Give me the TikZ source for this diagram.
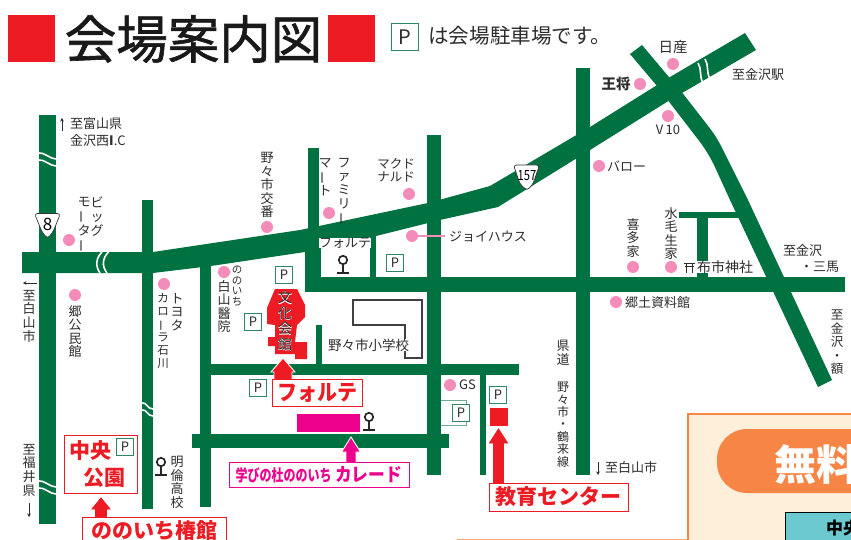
\documentclass[tikz,border=0pt]{standalone}
\usepackage{fontspec}
\usepackage{graphicx}
\usetikzlibrary{arrows.meta}
\setmainfont{Noto Sans CJK JP}
\newfontfamily\titlefont[FakeBold=1.2]{Noto Sans CJK JP}
\newfontfamily\halofont[FakeBold=2]{Noto Sans CJK JP}
\definecolor{road}{RGB}{0,114,66}
\definecolor{pinkdot}{RGB}{244,140,186}
\definecolor{pgreen}{RGB}{46,135,100}
\definecolor{ink}{RGB}{45,45,45}
\definecolor{mapred}{RGB}{237,28,36}
\definecolor{magen}{RGB}{236,0,140}
\definecolor{panel}{RGB}{254,239,219}
\definecolor{panelo}{RGB}{247,134,70}
\definecolor{teal}{RGB}{108,201,207}
\def\VB{\rotatebox[origin=c]{90}{ー}}
\newcommand{\fsz}[1]{\fontsize{#1}{#1}\selectfont}
\tikzset{
  roadfill/.style={fill=road,draw=none},
  lab/.style={text=ink,inner sep=0pt,font=\fsz{13}},
  vlab/.style={text=ink,inner sep=0pt,anchor=north,align=center,font=\fontsize{13}{13.6}\selectfont},
  vlabs/.style={text=ink,inner sep=0pt,anchor=north,align=center,font=\fontsize{10.5}{10.6}\selectfont},
  parkbox/.style={draw=pgreen,line width=1pt,fill=white,minimum size=17.5pt,inner sep=0pt,text=ink,font=\fsz{13}},
  redbox/.style={draw=mapred,line width=.8pt,fill=white,text=mapred,inner sep=0pt,font=\bfseries},
  breakline/.style={white,line width=1.6pt},
  dotp/.style={fill=pinkdot,draw=none},
  smallarrow/.style={ink,line width=.6pt,-{Stealth[length=3.5pt,width=3.5pt]}}
}
% up arrow: colour, tip x, tip y, head base y, bottom y, half head, half shaft
\newcommand{\uparrowshape}[8][white]{\fill[#2,draw=#1,line width=.9pt] (#3,#4)--(#3+#7,#5)--(#3+#8,#5)--(#3+#8,#6)--(#3-#8,#6)--(#3-#8,#5)--(#3-#7,#5)--cycle;}
% school symbol
\newcommand{\schoolsym}[2]{%
  \draw[black!85,line width=1.7pt] (#1,#2) circle[radius=4.2];
  \draw[black!85,line width=1.8pt] (#1,#2+4.2)--(#1,#2+13);
  \draw[black!85,line width=2pt] (#1-5.8,#2+12.6)--(#1+5.8,#2+12.6);}
\newcommand{\hbreak}[3]{%
  \draw[breakline] (#1,#3) .. controls (#1+5,#3-1) and (#2-6,#3+6) .. (#2,#3+6);
  \draw[breakline] (#1,#3+7) .. controls (#1+5,#3+6) and (#2-6,#3+13) .. (#2,#3+13);}
\begin{document}
\begin{tikzpicture}[x=1pt,y=-1pt]
\useasboundingbox (0,0) rectangle (851,540);
\clip (0,0) rectangle (851,540);
\fill[white] (0,0) rectangle (851,540);
% title
\fill[mapred] (8,15) rectangle (55,62);
\fill[mapred] (328,15) rectangle (375,62);
\node[inner sep=0pt,text=black!90,font=\titlefont\fsz{51.5}] (title) at (193.5,39) {会場案内図};
\node[parkbox,minimum size=27pt,font=\fsz{20}] (ptop) at (405,37) {P};
\node[lab,anchor=west,font=\fsz{20.6}] (ptext) at (428,36) {は会場駐車場です。};
% roads
\fill[roadfill] (39,115) rectangle (56,524);
\fill[roadfill] (142,200) rectangle (153,509);
\fill[roadfill] (200,266) rectangle (211,507);
\fill[roadfill] (308,148) rectangle (319,240);
\fill[roadfill] (305,245) rectangle (321,292);
\fill[roadfill] (370,230) rectangle (376,280);
\fill[roadfill] (427,135) rectangle (441,475);
\fill[roadfill] (576,68) rectangle (590,475);
\fill[roadfill] (305,277) rectangle (845,292);
\fill[roadfill] (211,364) rectangle (519,375);
\fill[roadfill] (316,325) rectangle (322,365);
\fill[roadfill] (192,434) rectangle (449,448);
\fill[roadfill] (480,375) rectangle (486,475);
\fill[roadfill] (679,212) rectangle (740,218);
\fill[roadfill] (697,215) rectangle (708,280);
% main road
\fill[roadfill] (22,252)--(153,252)--(300,230)--(428,203)--(490,186)--(590,127)--(670,77)--(745,33)--(756,50)--(670,100)--(590,150)--(498,207)--(440,220)--(376,236)--(305,252)--(211,266)--(153,273)--(22,273)--cycle;
% diagonal road
\fill[roadfill] (630,54)--(642,45)--(684,95)--(705,122) .. controls (712,131) and (715,135) .. (720,144)--(748,200)--(832,380)--(818,387)--(730,200)--(714,165) .. controls (710,157) and (706,150) .. (700,142)--(657,86)--cycle;
% road breaks
\hbreak{39}{56}{153}
\hbreak{39}{56}{481}
\hbreak{142}{153}{403}
\draw[breakline] (102,252) .. controls (96,258) and (95,266) .. (100,273);
\draw[breakline] (108.5,252) .. controls (102.5,258) and (101.5,266) .. (107,273);
\draw[breakline] (698,63) .. controls (702,69) and (699,76) .. (703,83);
\draw[breakline] (705,59) .. controls (709,65) and (706,72) .. (710,79);
% shields
\filldraw[fill=white,draw=black!80,line width=.7pt,rounded corners=3pt] (34.5,213.5)--(60.5,213.5)--(53,232)--(47.5,238.5)--(42,232)--cycle;
\node[inner sep=0pt,text=black,font=\fsz{17}] (r8) at (47.5,224) {8};
\filldraw[fill=white,draw=black!80,line width=.7pt,rounded corners=3pt] (513.5,165)--(539.5,165)--(533,184)--(527,190.5)--(520,184)--cycle;
\node[inner sep=0pt,text=black] (r157) at (527,176) {\scalebox{.8}[1]{\fsz{14}157}};
% dots
\foreach \px/\py in {69/240,75/295,164/284,224/272,267/227,329/213,409/194,412/236,599/166,633/267,671/267,616/302,673/64,640/84,668/116,450/385}
  \fill[dotp] (\px,\py) circle[radius=6];
\draw[pinkdot,line width=1.3pt] (412,236)--(445,236);
% arrows and small texts
\draw[smallarrow] (62,131)--(62,118);
\node[lab,anchor=west] (t1) at (70,124) {至富山県};
\node[lab,anchor=west] (t2) at (70,141) {金沢西\textbf{I}.C};
\node[vlab] (bm1) at (97,197) {ビ\\ッ\\グ};
\node[vlab] (bm2) at (84,197) {モ\\\VB\\タ\\\VB};
\node[vlab] (t3) at (267,152) {野\\々\\市\\交\\番};
\node[vlab] (fm1) at (344,158) {フ\\ァ\\ミ\\リ\\\VB};
\node[vlab] (fm2) at (325,158) {マ\\\VB\\ト};
\node[lab,align=center,font=\fontsize{12.5}{13}\selectfont] (mc) at (396,170) {マクド\\ナルド};
\node[lab,fill=white] (f2) at (345,243) {フォルテ};
\schoolsym{343}{260}
\node[lab,anchor=west] (joy) at (449,237) {ジョイハウス};
\node[vlab] (t4) at (224,280) {白\\山\\醫\\院};
\node[vlabs] (t5) at (237,266) {の\\の\\い\\ち};
\node[vlab] (t6) at (177,293) {ト\\ヨ\\タ};
\node[vlab,font=\fontsize{11.5}{13}\selectfont] (t7) at (163,293) {カ\\ロ\\\VB\\ラ\\石\\川};
\node[vlab] (t8) at (75,305) {郷\\公\\民\\館};
\draw[smallarrow] (37,283)--(23,283);
\node[vlab] (t9) at (29,290) {至\\白\\山\\市};
\node[vlab] (t10) at (29,444) {至\\福\\井\\県};
\draw[smallarrow] (29,503)--(29,517);
\schoolsym{161}{462}
\node[vlab] (t11) at (177,456) {明\\倫\\高\\校};
\node[vlab] (t12) at (563,340) {県\\道};
\node[vlab,font=\fontsize{12}{12.4}\selectfont] (t13) at (563,382) {野\\々\\市\\・\\鶴\\来\\線};
\draw[smallarrow] (598,462)--(598,475);
\node[lab,anchor=west] (t14) at (605,468) {至白山市};
\node[lab,anchor=west] (gs) at (459,385) {GS};
\node[inner sep=0pt,font=\bfseries\fsz{14.5},text=ink] (wang) at (616,84) {王将};
\node[inner sep=0pt,font=\fsz{14.5},text=ink] (nis) at (673,47) {日産};
\node[lab] (v10) at (668,130) {V\,10};
\node[lab,anchor=west] (bar) at (607,166) {バロー};
\node[lab,anchor=west] (st) at (732,75) {至金沢駅};
\node[vlab] (t15) at (633,218) {喜\\多\\家};
\node[vlab] (t16) at (671,207) {水\\毛\\生\\家};
\node[lab,anchor=west,font=\fsz{14},fill=white] (t17) at (697,267) {布市神社};
\draw[ink,line width=.8pt] (684,263)--(695,263) (685,266)--(694,266) (686.5,263)--(686.5,273) (692.5,263)--(692.5,273);
\node[lab,anchor=west] (t18) at (625,303) {郷土資料館};
\node[lab,anchor=west] (t19) at (783,251) {至金沢};
\node[lab,anchor=west] (t20) at (800,267) {・三馬};
\node[vlab,font=\fontsize{12.5}{13.5}\selectfont] (t21) at (837,310) {至\\金\\沢\\・\\額};
% school building
\draw[black!75,line width=1.2pt] (353,300)--(422,300)--(422,358)--(405,358)--(405,325)--(353,325)--cycle;
\node[lab,anchor=west,font=\fsz{13.5},fill=white] (t22) at (328,345) {野々市小学校};
% culture hall
\fill[mapred] (275,289)--(297,289)--(305,305)--(305,317)--(297,325)--(295,342)--(307,342)--(307,359)--(295,359)--(295,354)--(275,354)--(275,346)--(268,346)--(268,337)--(275,337)--(275,325)--(267,324)--(267,308)--cycle;
\node[vlab,text=white,font=\halofont\fontsize{14}{15.5}\selectfont] (hallhalo) at (285,291) {文\\化\\会\\館};
\node[vlab,font=\fontsize{14}{15.5}\selectfont] (hall) at (285,291) {文\\化\\会\\館};
% parking
\draw[pgreen!70,line width=.8pt] (441,400.5)--(466,400.5)--(466,425)--(441,425);
\node[parkbox] (p1) at (284,275) {P};
\node[parkbox] (p2) at (395,263) {P};
\node[parkbox] (p3) at (253,322) {P};
\node[parkbox] (p4) at (258,388) {P};
\node[parkbox] (p5) at (461,413) {P};
\node[parkbox] (p6) at (498,395) {P};
% forte
\uparrowshape{mapred}{283}{358}{372}{381}{12}{9}
\node[redbox,minimum width=90pt,minimum height=27pt] (forte) at (317,393) {\scalebox{1}[1.1]{\fsz{20}フォルテ}};
% kaleido
\fill[magen] (297,414) rectangle (360,432);
\schoolsym{369}{417}
\uparrowshape{magen}{351}{437}{452}{463}{9.5}{5}
\node[redbox,draw=magen,text=magen,minimum width=180pt,minimum height=25pt] (kal) at (319,474.5) {\scalebox{1}[1.35]{\fsz{12}学びの杜ののいち}\,\,\scalebox{1}[1.1]{\fsz{16.8}カレード}};
% education
\fill[mapred] (490,408) rectangle (508,426);
\uparrowshape[mapred]{mapred}{498.5}{429}{443}{484}{9}{5}
\node[redbox,minimum width=139pt,minimum height=28pt,font=\bfseries\fsz{21}] (edu) at (558.5,497) {教育センター};
% park
\node[redbox,minimum width=73pt,minimum height=58pt] (parkb) at (100.5,464) {};
\node[inner sep=0pt,text=mapred,font=\bfseries\fsz{21}] (c1) at (90,451) {中央};
\node[inner sep=0pt,text=mapred,font=\bfseries\fsz{21}] (c2) at (104,478) {公園};
\node[parkbox] (p7) at (125,447) {P};
\uparrowshape[mapred]{mapred}{101}{498}{509}{518}{9}{5.5}
\node[redbox,minimum width=144pt,minimum height=28pt,font=\bfseries\fsz{21}] (camellia) at (154,531) {ののいち椿館};
% panel
\draw[panelo!75,line width=1pt] (457,539.5)--(688,539.5);
\filldraw[fill=panel,draw=panelo,line width=2.5pt] (688,414) rectangle (870,560);
\fill[panelo,rounded corners=30pt] (717,429) rectangle (920,493);
\node[inner sep=0pt,anchor=west,text=white,font=\bfseries\fsz{42}] (free) at (774,465) {無料};
\filldraw[fill=teal,draw=black,line width=.8pt] (785,512) rectangle (880,560);
\node[inner sep=0pt,anchor=west,text=black,font=\bfseries\fsz{17}] (mid) at (826,528) {中央};
\end{tikzpicture}
\end{document}
